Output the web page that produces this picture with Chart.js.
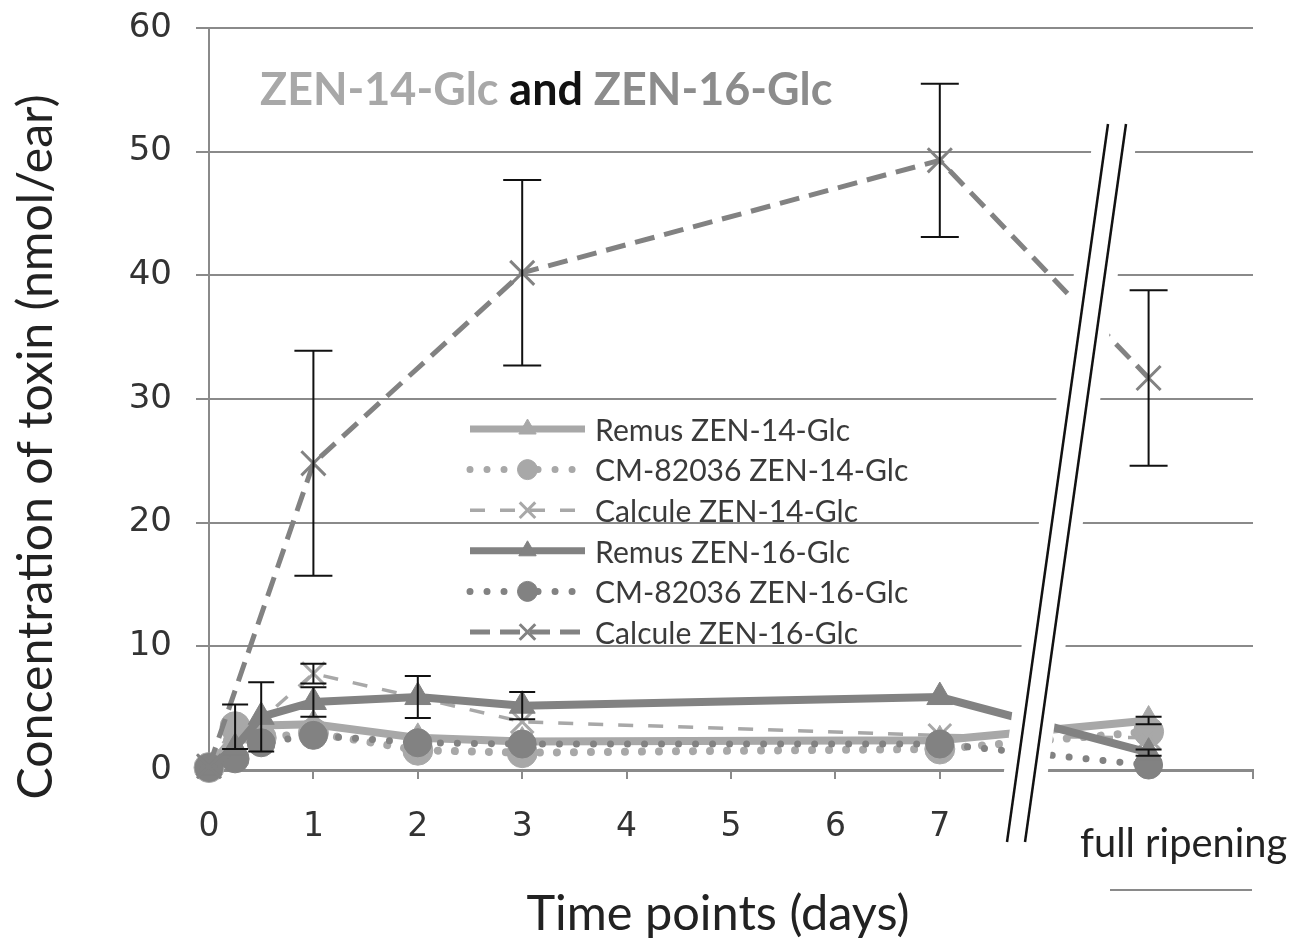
<!DOCTYPE html>
<html><head><meta charset="utf-8">
<script src="https://cdn.jsdelivr.net/npm/chart.js@4.4.1/dist/chart.umd.min.js"></script>
<style>html,body{margin:0;padding:0;background:#fff}</style>
</head><body>
<canvas id="c" width="1291" height="947"></canvas>
<script>
// time points (days); 9 stands for "full ripening"
const xMain = [0, 0.25, 0.5, 1, 2, 3, 7, 9];
const xCalc = [0, 1, 3, 7, 9];
const xTickLabels = ['0','1','2','3','4','5','6','7'];

const remus14 = [0.2, 2.8, 3.6, 3.7, 2.6, 2.3, 2.4, 4.0];
const cm14    = [0.2, 3.5, 2.6, 3.0, 1.6, 1.4, 1.7, 3.1];
const calc14  = [0.3, 7.8, 3.9, 2.8, 2.6];
const remus16 = [0.2, 1.8, 4.3, 5.5, 5.9, 5.2, 5.9, 1.4];
const cm16    = [0.2, 0.9, 2.2, 2.8, 2.2, 2.1, 2.1, 0.4];
const calc16  = [0.3, 24.8, 40.2, 49.3, 31.7];

const remus14Err = [0, 0, 0, 0, 0, 0, 0, 0.3];
const cm14Err    = [0, 1.8, 0, 0, 0, 0, 0, 0];
const calc14Err  = [0, 0.8, 0, 0, 0];
const remus16Err = [0, 0, 2.8, 1.2, 1.7, 1.1, 0, 0.25];
const calc16Err  = [0, 9.1, 7.5, 6.2, 7.1];

const LIGHT = '#a8a8a8', DARK = '#828282', GRID = '#8a8a8a';

function pts(xs, ys){ return xs.map((x,i)=>({x, y: ys[i]})); }

const datasets = [
  {label:'Remus ZEN-14-Glc', data:pts(xMain,remus14), borderColor:LIGHT, backgroundColor:LIGHT, borderWidth:8, pointStyle:'triangle', pointRadius:15, order:4},
  {label:'CM-82036 ZEN-14-Glc', data:pts(xMain,cm14), borderColor:LIGHT, backgroundColor:LIGHT, borderWidth:8, borderDash:[0.01,17], borderCapStyle:'round', pointStyle:'circle', pointRadius:15, order:5},
  {label:'Calcule ZEN-14-Glc', data:pts(xCalc,calc14), borderColor:LIGHT, backgroundColor:LIGHT, borderWidth:3.5, borderDash:[15,15], pointStyle:'crossRot', pointRadius:16, pointBorderWidth:3, order:3},
  {label:'Remus ZEN-16-Glc', data:pts(xMain,remus16), borderColor:DARK, backgroundColor:DARK, borderWidth:8, pointStyle:'triangle', pointRadius:15, order:1},
  {label:'CM-82036 ZEN-16-Glc', data:pts(xMain,cm16), borderColor:DARK, backgroundColor:DARK, borderWidth:7, borderDash:[0.01,17], borderCapStyle:'round', pointStyle:'circle', pointRadius:14, order:2},
  {label:'Calcule ZEN-16-Glc', data:pts(xCalc,calc16), borderColor:DARK, backgroundColor:DARK, borderWidth:5, borderDash:[20,10], pointStyle:'crossRot', pointRadius:17, pointBorderWidth:3, order:0}
];
datasets.forEach(d=>{ d.tension=0; d.clip=false; d.pointBorderColor=d.borderColor; d.pointBackgroundColor=d.borderColor; if(!d.pointBorderWidth) d.pointBorderWidth=1; });

const errSets = [
  {xs:xMain, vals:remus14, errs:remus14Err, cap:26},
  {xs:xMain, vals:cm14, errs:cm14Err, cap:26},
  {xs:xCalc, vals:calc14, errs:calc14Err, cap:26},
  {xs:xMain, vals:remus16, errs:remus16Err, cap:26},
  {xs:xCalc, vals:calc16, errs:calc16Err, cap:38}
];

function fit(ctx, text, w, weight){
  ctx.font = weight+' 100px Lato';
  const s = 100*w/ctx.measureText(text).width;
  return weight+' '+s.toFixed(1)+'px Lato';
}

const decor = {
  id:'decor',
  afterDatasetsDraw(chart){
    const {ctx, scales:{x, y}} = chart;
    ctx.save();
    // axis break
    const top=124, bot=842, lx0=1108, lx1=1007, gap=18, pad=13;
    ctx.fillStyle='#fff';
    ctx.beginPath();
    ctx.moveTo(lx0-pad,top); ctx.lineTo(lx0+gap+pad,top); ctx.lineTo(lx1+gap+pad,bot); ctx.lineTo(lx1-pad,bot);
    ctx.closePath(); ctx.fill();
    ctx.strokeStyle='#111'; ctx.lineWidth=2.5;
    [0,gap].forEach(d=>{ ctx.beginPath(); ctx.moveTo(lx0+d,top); ctx.lineTo(lx1+d,bot); ctx.stroke(); });

    // error bars
    ctx.strokeStyle='#111'; ctx.lineWidth=2;
    errSets.forEach(s=>{
      s.errs.forEach((e,i)=>{
        if(!e) return;
        const px=x.getPixelForValue(s.xs[i]);
        const a=y.getPixelForValue(s.vals[i]+e), b=y.getPixelForValue(s.vals[i]-e);
        ctx.beginPath();
        ctx.moveTo(px,a); ctx.lineTo(px,b);
        ctx.moveTo(px-s.cap/2,a); ctx.lineTo(px+s.cap/2,a);
        ctx.moveTo(px-s.cap/2,b); ctx.lineTo(px+s.cap/2,b);
        ctx.stroke();
      });
    });

    // legend
    const lx=470, lw=115, ly=429, step=40.6;
    ctx.font = fit(ctx,'Remus ZEN-14-Glc',255,'normal');
    ctx.textBaseline='middle'; ctx.textAlign='left';
    chart.data.datasets.forEach((d,i)=>{
      const yy=ly+i*step;
      ctx.save();
      ctx.strokeStyle=d.borderColor; ctx.lineWidth=Math.min(d.borderWidth,7);
      ctx.setLineDash(d.borderDash||[]); ctx.lineCap=d.borderCapStyle||'butt';
      ctx.beginPath(); ctx.moveTo(lx,yy); ctx.lineTo(lx+lw,yy); ctx.stroke();
      ctx.setLineDash([]);
      ctx.fillStyle=d.borderColor; ctx.strokeStyle=d.borderColor; ctx.lineWidth=d.pointBorderWidth;
      Chart.helpers.drawPoint(ctx,{pointStyle:d.pointStyle, radius:d.pointStyle==='crossRot'?11:10, rotation:0, borderWidth:d.pointBorderWidth}, lx+lw/2, yy);
      ctx.restore();
      ctx.fillStyle='#3a3a3a';
      ctx.fillText(d.label, 595, yy+2);
    });

    // title with three colours
    const parts=[['ZEN-14-Glc','#a8a8a8'],[' and ','#111'],['ZEN-16-Glc','#8c8c8c']];
    ctx.font = fit(ctx,'ZEN-14-Glc and ZEN-16-Glc',572,'bold');
    ctx.textBaseline='alphabetic';
    let tx=260;
    parts.forEach(p=>{ ctx.fillStyle=p[1]; ctx.fillText(p[0],tx,105); tx+=ctx.measureText(p[0]).width; });

    // axis titles
    ctx.fillStyle='#222';
    ctx.font = fit(ctx,'Time points (days)',383,'normal');
    ctx.textAlign='center';
    ctx.fillText('Time points (days)',718,930);
    ctx.save();
    ctx.translate(52,447); ctx.rotate(-Math.PI/2);
    ctx.font = fit(ctx,'Concentration of toxin (nmol/ear)',705,'normal');
    ctx.fillText('Concentration of toxin (nmol/ear)',0,0);
    ctx.restore();

    // full ripening label
    ctx.textAlign='left';
    ctx.font = fit(ctx,'full ripening',207,'normal');
    ctx.fillText('full ripening',1080,857);
    ctx.strokeStyle=GRID; ctx.lineWidth=2;
    ctx.beginPath(); ctx.moveTo(1110,890); ctx.lineTo(1252,890); ctx.stroke();
    ctx.restore();
  }
};

new Chart(document.getElementById('c'), {
  type:'line',
  data:{datasets},
  options:{
    responsive:false, animation:false, devicePixelRatio:1,
    layout:{padding:{top:28, right:38, left:0, bottom:0}},
    plugins:{legend:{display:false}, tooltip:{enabled:false}},
    scales:{
      x:{type:'linear', min:0, max:10,
        afterFit:s=>{ s.height=177; s.paddingLeft=0; s.paddingRight=0; },
        ticks:{stepSize:1, autoSkip:false, maxRotation:0, padding:29, color:'#333', font:{family:'DejaVu Sans', size:33},
          callback:v=> (Number.isInteger(v) && v<xTickLabels.length) ? xTickLabels[v] : ''},
        grid:{drawOnChartArea:false, drawTicks:true, tickLength:9, color:GRID, lineWidth:2},
        border:{color:GRID, width:3}},
      y:{min:0, max:60,
        afterFit:s=>{ s.width=209; s.paddingTop=0; s.paddingBottom=0; },
        ticks:{stepSize:10, padding:24, color:'#333', font:{family:'DejaVu Sans', size:34}},
        grid:{color:GRID, lineWidth:2, tickLength:13},
        border:{color:GRID, width:2}}
    }
  },
  plugins:[decor]
});
</script>
</body></html>
